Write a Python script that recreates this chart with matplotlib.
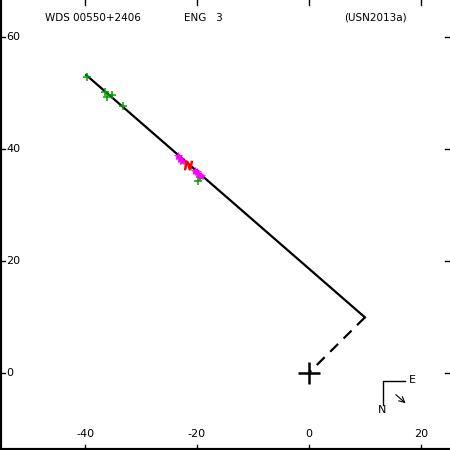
import numpy as np
import matplotlib.pyplot as plt
from matplotlib import transforms

# Orbit line ends (arcsec-ish units as plotted)
orbit_x = [-39.8, 10.0]
orbit_y = [53.2, 9.9]
node_x = [10.0, 0.0]
node_y = [9.9, 0.0]

# Green plus observations
green_x = [-39.7, -36.4, -36.0, -35.2, -33.3, -19.8, -19.5]
green_y = [52.8, 50.2, 49.3, 49.6, 47.6, 34.2, 35.0]
# Magenta asterisk observations
mag_x = [-23.4, -23.0, -22.7, -20.3, -20.0, -19.6, -19.3]
mag_y = [38.7, 38.2, 37.9, 36.1, 35.8, 35.4, 35.1]
# Red marker
red_x = [-21.6]
red_y = [37.1]

xticks = [-40, -20, 0, 20]
yticks = [0, 20, 40, 60]

fig = plt.figure(figsize=(4.5, 4.5), dpi=100)
ax = fig.add_axes([0, 0, 1, 1])
ax.set_xlim(-55.2, 25.2)
ax.set_ylim(-13.8, 66.6)

ax.plot(orbit_x, orbit_y, color='black', lw=1.6)
ax.plot(node_x, node_y, color='black', lw=1.6, ls=(0, (5, 3.5)))
ax.plot([0], [0], marker='+', color='black', ms=16, mew=1.8)
ax.plot(green_x, green_y, ls='none', marker='+', color='#00a000', ms=6, mew=1.1)
ax.plot(mag_x, mag_y, ls='none', marker='*', color='#ff00ff', ms=6, mew=0.5)
ax.plot(red_x, red_y, ls='none', marker='$N$', color='red', ms=6)

# ticks inside, labels drawn inside the frame
ax.set_xticks([])
ax.set_yticks([])
for s in ['top', 'right']:
    ax.spines[s].set_visible(False)
ax.spines['left'].set_linewidth(3)
ax.spines['bottom'].set_linewidth(3)

tx = transforms.blended_transform_factory(ax.transData, ax.transAxes)
ty = transforms.blended_transform_factory(ax.transAxes, ax.transData)
for v in xticks:
    ax.plot([v, v], [0, 0.012], transform=tx, color='black', lw=1)
    ax.plot([v, v], [1, 0.988], transform=tx, color='black', lw=1)
    ax.text(v, 0.025, str(v), transform=tx, ha='center', va='bottom',
            fontsize=8, family='DejaVu Sans')
for v in yticks:
    ax.plot([0, 0.012], [v, v], transform=ty, color='black', lw=1)
    ax.plot([1, 0.988], [v, v], transform=ty, color='black', lw=1)
    ax.text(0.014, v, str(v), transform=ty, ha='left', va='center',
            fontsize=8, family='DejaVu Sans')

# header
ax.text(0.1, 0.96, 'WDS 00550+2406', transform=ax.transAxes, fontsize=7.5, va='center')
ax.text(0.41, 0.96, 'ENG   3', transform=ax.transAxes, fontsize=7.5, va='center')
ax.text(0.765, 0.96, '(USN2013a)', transform=ax.transAxes, fontsize=7.5, va='center')

# compass
fa = ax.transAxes
ax.plot([0.851, 0.851, 0.9], [0.1, 0.153, 0.153], transform=fa, color='black', lw=1)
ax.text(0.908, 0.155, 'E', transform=fa, fontsize=8, va='center')
ax.text(0.849, 0.088, 'N', transform=fa, fontsize=8, va='center', ha='center')
ax.annotate('', xy=(0.906, 0.1), xytext=(0.875, 0.127), xycoords=fa,
            arrowprops=dict(arrowstyle='->', color='black', lw=0.8))

fig.savefig('out.png', dpi=100)
